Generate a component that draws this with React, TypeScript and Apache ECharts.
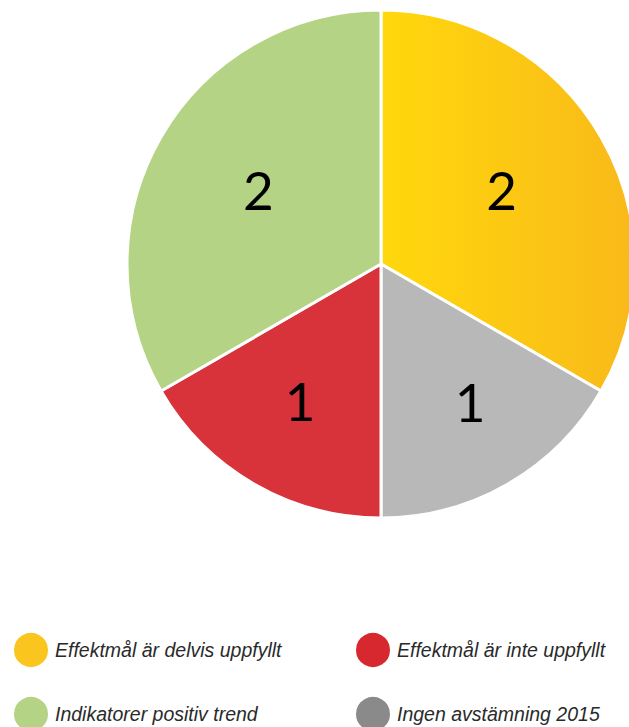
import React, { useEffect, useRef } from "react";
import * as echarts from "echarts";

const categories = [
  "Effektmål är delvis uppfyllt",
  "Ingen avstämning 2015",
  "Effektmål är inte uppfyllt",
  "Indikatorer positiv trend",
];
const values = [2, 1, 1, 2];
const sliceColors = ["#FDC913", "#B8B8B8", "#D8323A", "#B4D384"];
const legendColors = ["#F9C51E", "#8A8A8A", "#D7282F", "#B4D384"];
const labelOffsets: [number, number][] = [
  [8, -10],
  [24, 25],
  [-16, 24],
  [-10, -10],
];
// legend placement: [category index, left, top]
const legendSlots: [number, number, number][] = [
  [0, 12, 631],
  [2, 354, 631],
  [3, 12, 695],
  [1, 354, 695],
];

export default function App() {
  const ref = useRef<HTMLDivElement>(null);
  useEffect(() => {
    document.body.style.margin = "0";
    const chart = echarts.init(ref.current!, null, { renderer: "svg" });
    const yellowGrad = new echarts.graphic.LinearGradient(0, 0, 1, 0, [
      { offset: 0, color: "#FFD80C" },
      { offset: 1, color: "#F9B91A" },
    ]);
    chart.setOption({
      animation: false,
      legend: legendSlots.map(([i, left, top]) => ({
        orient: "horizontal",
        left,
        top,
        padding: 0,
        icon: "circle",
        itemWidth: 36,
        itemHeight: 36,
        selectedMode: false,
        textStyle: {
          fontFamily: "Liberation Sans",
          fontStyle: "italic",
          fontSize: 19.5,
          color: "#2a2a2a",
          padding: [3, 0, 0, 1],
        },
        data: [{ name: categories[i], itemStyle: { color: legendColors[i] } }],
      })),
      series: [
        {
          type: "pie",
          center: [381, 264],
          radius: [0, 254],
          startAngle: 90,
          clockwise: true,
          silent: true,
          itemStyle: { borderColor: "#ffffff", borderWidth: 3 },
          label: {
            show: true,
            position: "inside",
            formatter: "{c}",
            fontFamily: "Lato",
            fontSize: 53,
            color: "#000000",
          },
          labelLine: { show: false },
          data: categories.map((name, i) => ({
            name,
            value: values[i],
            itemStyle: { color: i === 0 ? yellowGrad : sliceColors[i] },
            label: { offset: labelOffsets[i] },
          })),
        },
      ],
    });
    return () => chart.dispose();
  }, []);
  return <div ref={ref} style={{ width: 629, height: 727 }} />;
}
